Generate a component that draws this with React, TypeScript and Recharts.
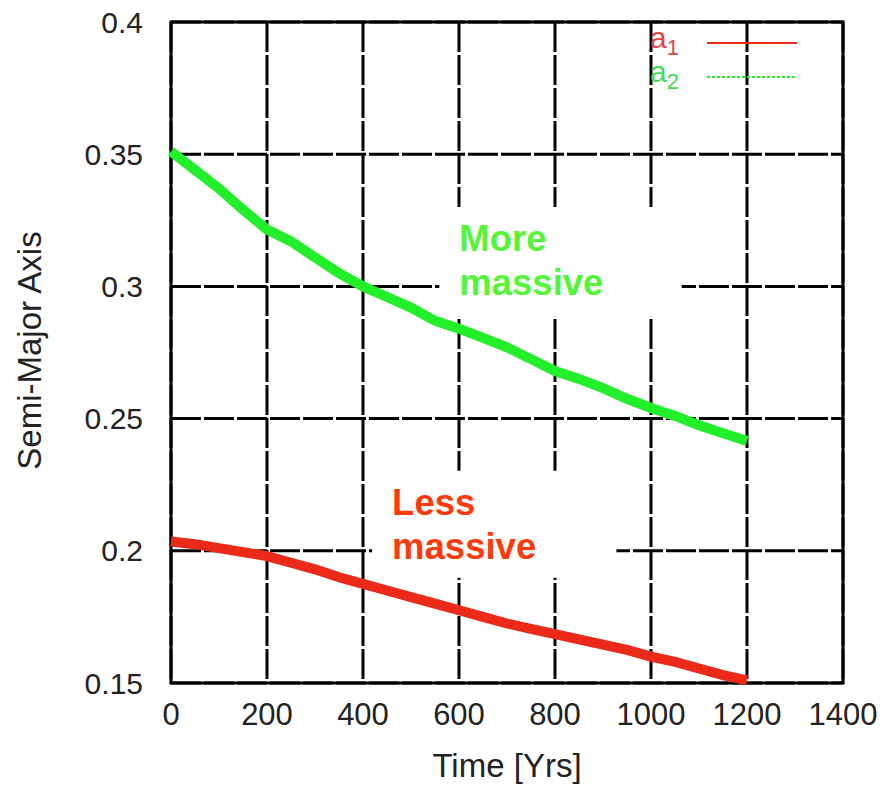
import React from 'react';
import { LineChart, Line, XAxis, YAxis, CartesianGrid, ReferenceArea } from 'recharts';

const years = [0, 50, 100, 150, 200, 250, 300, 350, 400, 450, 500, 550, 600, 650, 700, 750, 800, 850, 900, 950, 1000, 1050, 1100, 1150, 1200];
const a1 = [0.2035, 0.2025, 0.201, 0.1995, 0.198, 0.1955, 0.193, 0.190, 0.1875, 0.185, 0.1825, 0.180, 0.1775, 0.175, 0.1725, 0.1705, 0.1685, 0.1665, 0.1645, 0.1625, 0.160, 0.158, 0.1555, 0.153, 0.151];
const a2 = [0.351, 0.344, 0.337, 0.329, 0.3215, 0.317, 0.311, 0.305, 0.300, 0.296, 0.292, 0.287, 0.284, 0.2805, 0.277, 0.2725, 0.268, 0.265, 0.2615, 0.2575, 0.254, 0.251, 0.2475, 0.2445, 0.2415];
const xTicks = [0, 200, 400, 600, 800, 1000, 1200, 1400];
const yTicks = [0.15, 0.2, 0.25, 0.3, 0.35, 0.4];
const yTickLabels = ['0.15', '0.2', '0.25', '0.3', '0.35', '0.4'];
const seriesNames = ['1', '2'];

const data = years.map((t, i) => ({ t, a1: a1[i], a2: a2[i] }));

const FONT = 'Liberation Sans, Arial, Helvetica, sans-serif';
const RED = '#ec2a1a';
const GREEN = '#22ee2a';

const LegendBox = () => (
  <div style={{ position: 'absolute', left: 650, top: 26, fontFamily: FONT, fontSize: 30, lineHeight: '34px' }}>
    <div style={{ display: 'flex', alignItems: 'center', height: 34 }}>
      <span style={{ color: '#e04545', width: 57 }}>a<sub style={{ fontSize: 22 }}>{seriesNames[0]}</sub></span>
      <svg width={90} height={10}><line x1={0} y1={5} x2={90} y2={5} stroke={RED} strokeWidth={2} /></svg>
    </div>
    <div style={{ display: 'flex', alignItems: 'center', height: 34 }}>
      <span style={{ color: '#44dd50', width: 57 }}>a<sub style={{ fontSize: 22 }}>{seriesNames[1]}</sub></span>
      <svg width={90} height={10}><line x1={0} y1={5} x2={90} y2={5} stroke={GREEN} strokeWidth={2} strokeDasharray="3 2" /></svg>
    </div>
  </div>
);

const boxLabel = (lines: string[], color: string) => (props: any) => {
  const vb = props.viewBox;
  return (
    <text x={vb.x + 20} y={vb.y + 44} fill={color} fontFamily={FONT} fontWeight="bold" fontSize={36.5}>
      {lines.map((l, i) => (
        <tspan key={i} x={vb.x + 20} dy={i === 0 ? 0 : 44}>{l}</tspan>
      ))}
    </text>
  );
};

const YLabel = (props: any) => {
  const vb = props.viewBox;
  const cx = 29;
  const cy = vb.y + vb.height / 2 - 2;
  return (
    <text x={cx} y={cy} transform={`rotate(-90, ${cx}, ${cy})`} textAnchor="middle" dominantBaseline="central" fill="#222" fontFamily={FONT} fontSize={33}>
      Semi-Major Axis
    </text>
  );
};

export default function App() {
  return (
    <div style={{ position: 'absolute', left: 0, top: 0, width: 881, height: 785, background: '#fff' }}>
      <LineChart width={881} height={785} data={data} margin={{ top: 22, right: 38, left: 0, bottom: 0 }}>
        <CartesianGrid stroke="#000" strokeWidth={3} strokeDasharray="30 3" horizontalValues={yTicks} verticalValues={xTicks} />
        <XAxis
          dataKey="t"
          type="number"
          domain={[0, 1400]}
          ticks={xTicks}
          height={102}
          tickLine={false}
          axisLine={false}
          tickMargin={14}
          tick={{ fill: '#222', fontSize: 31, fontFamily: FONT }}
          label={{ value: 'Time [Yrs]', position: 'insideBottom', offset: 8, fill: '#222', fontSize: 33, fontFamily: FONT }}
        />
        <YAxis
          type="number"
          domain={[0.15, 0.4]}
          ticks={yTicks}
          width={171}
          tickLine={false}
          axisLine={false}
          tickMargin={22}
          tickFormatter={(v: number) => yTickLabels[yTicks.indexOf(v)] ?? String(v)}
          tick={{ fill: '#222', fontSize: 30, fontFamily: FONT }}
          label={<YLabel />}
        />
        <ReferenceArea x1={559} x2={1064} y1={0.2883} y2={0.33} fill="#fff" fillOpacity={1} stroke="none" label={boxLabel(['More', 'massive'], '#55f53a')} />
        <ReferenceArea x1={419} x2={928} y1={0.1898} y2={0.2303} fill="#fff" fillOpacity={1} stroke="none" label={boxLabel(['Less', 'massive'], '#ff3a0a')} />
        <Line dataKey="a1" name="a1" stroke={RED} strokeWidth={10} dot={false} isAnimationActive={false} />
        <Line dataKey="a2" name="a2" stroke={GREEN} strokeWidth={10} dot={false} isAnimationActive={false} />
        <ReferenceArea x1={0} x2={1400} y1={0.15} y2={0.4} fill="none" stroke="#000" strokeWidth={3} ifOverflow="visible" />
      </LineChart>
      <LegendBox />
    </div>
  );
}
